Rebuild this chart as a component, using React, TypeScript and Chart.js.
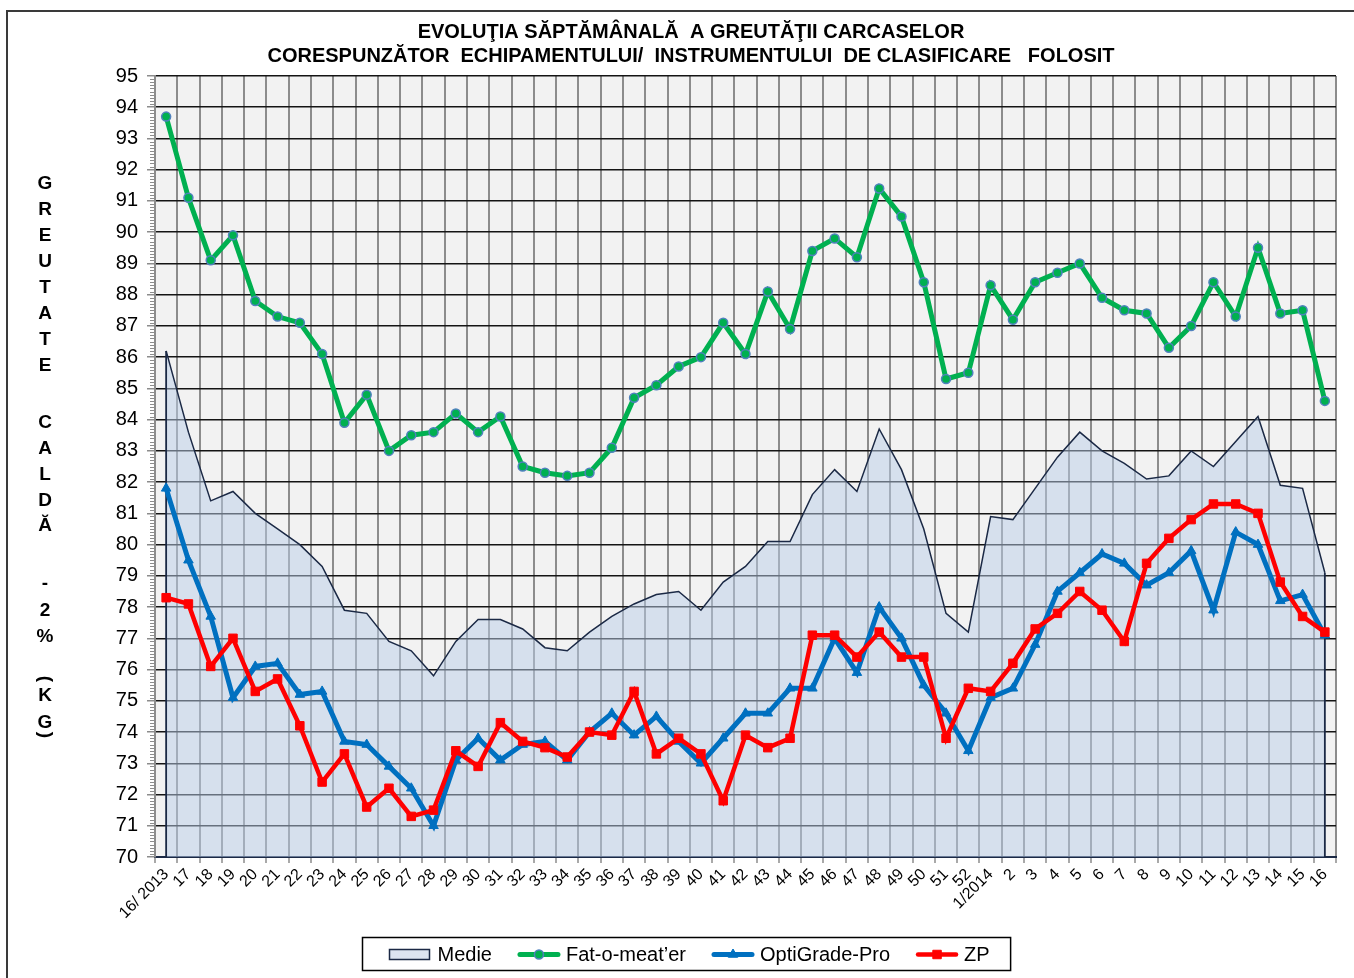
import React, { useEffect, useRef } from 'react';
import { Chart, registerables } from 'chart.js';
import { drawPoint } from 'chart.js/helpers';

Chart.register(...registerables);

const FONT = "'Liberation Sans', Arial, Helvetica, sans-serif";

const titleLines = [
  'EVOLUŢIA SĂPTĂMÂNALĂ  A GREUTĂŢII CARCASELOR',
  'CORESPUNZĂTOR  ECHIPAMENTULUI/  INSTRUMENTULUI  DE CLASIFICARE   FOLOSIT',
];

const yAxisTitleWords = ['GREUTATE', 'CALDĂ', '-2%', '(KG)'];

const weekLabels = [
  '16/ 2013', '17', '18', '19', '20', '21', '22', '23', '24', '25', '26', '27', '28', '29', '30',
  '31', '32', '33', '34', '35', '36', '37', '38', '39', '40', '41', '42', '43', '44', '45', '46',
  '47', '48', '49', '50', '51', '52', '1/2014', '2', '3', '4', '5', '6', '7', '8', '9', '10', '11',
  '12', '13', '14', '15', '16',
];

const medieValues = [
  86.2, 83.6, 81.4, 81.7, 81.0, 80.5, 80.0, 79.3, 77.9, 77.8, 76.9, 76.6, 75.8, 76.9, 77.6, 77.6,
  77.3, 76.7, 76.6, 77.2, 77.7, 78.1, 78.4, 78.5, 77.9, 78.8, 79.3, 80.1, 80.1, 81.6, 82.4, 81.7,
  83.7, 82.4, 80.5, 77.8, 77.2, 80.9, 80.8, 81.8, 82.8, 83.6, 83.0, 82.6, 82.1, 82.2, 83.0, 82.5,
  83.3, 84.1, 81.9, 81.8, 79.1,
];

const fatOMeaterValues = [
  93.7, 91.1, 89.1, 89.9, 87.8, 87.3, 87.1, 86.1, 83.9, 84.8, 83.0, 83.5, 83.6, 84.2, 83.6, 84.1,
  82.5, 82.3, 82.2, 82.3, 83.1, 84.7, 85.1, 85.7, 86.0, 87.1, 86.1, 88.1, 86.9, 89.4, 89.8, 89.2,
  91.4, 90.5, 88.4, 85.3, 85.5, 88.3, 87.2, 88.4, 88.7, 89.0, 87.9, 87.5, 87.4, 86.3, 87.0, 88.4,
  87.3, 89.5, 87.4, 87.5, 84.6,
];

const optiGradeValues = [
  81.8, 79.5, 77.7, 75.1, 76.1, 76.2, 75.2, 75.3, 73.7, 73.6, 72.9, 72.2, 71.0, 73.1, 73.8, 73.1,
  73.6, 73.7, 73.1, 74.0, 74.6, 73.9, 74.5, 73.7, 73.0, 73.8, 74.6, 74.6, 75.4, 75.4, 77.0, 75.9,
  78.0, 77.0, 75.5, 74.6, 73.4, 75.1, 75.4, 76.8, 78.5, 79.1, 79.7, 79.4, 78.7, 79.1, 79.8, 77.9,
  80.4, 80.0, 78.2, 78.4, 77.1,
];

const zpValues = [
  78.3, 78.1, 76.1, 77.0, 75.3, 75.7, 74.2, 72.4, 73.3, 71.6, 72.2, 71.3, 71.5, 73.4, 72.9, 74.3,
  73.7, 73.5, 73.2, 74.0, 73.9, 75.3, 73.3, 73.8, 73.3, 71.8, 73.9, 73.5, 73.8, 77.1, 77.1, 76.4,
  77.2, 76.4, 76.4, 73.8, 75.4, 75.3, 76.2, 77.3, 77.8, 78.5, 77.9, 76.9, 79.4, 80.2, 80.8, 81.3,
  81.3, 81.0, 78.8, 77.7, 77.2,
];

const Y_MIN = 70;
const Y_MAX = 95;

const MEDIE_FILL = 'rgba(186,205,231,0.5)';
const MEDIE_LINE = '#1b2945';

// background, frame
const backgroundPlugin = {
  id: 'bgFrame',
  beforeDraw(chart: any) {
    const { ctx, chartArea, width, height } = chart;
    ctx.save();
    ctx.fillStyle = '#ffffff';
    ctx.fillRect(0, 0, width, height);
    ctx.fillStyle = '#f2f2f2';
    ctx.fillRect(chartArea.left, chartArea.top, chartArea.right - chartArea.left, chartArea.bottom - chartArea.top);
    ctx.strokeStyle = '#3a3a3a';
    ctx.lineWidth = 2;
    ctx.strokeRect(7, 11, width + 20, height + 20);
    ctx.restore();
  },
};

// minor ticks on the value axis
const minorTicksPlugin = {
  id: 'minorTicks',
  afterDraw(chart: any) {
    const { ctx, chartArea } = chart;
    const y = chart.scales.y;
    ctx.save();
    ctx.strokeStyle = '#8c8c8c';
    ctx.lineWidth = 1;
    const n = Math.round((Y_MAX - Y_MIN) * 10);
    for (let i = 0; i <= n; i++) {
      if (i % 10 === 0) continue;
      const py = Math.round(y.getPixelForValue(Y_MIN + i / 10)) + 0.5;
      ctx.beginPath();
      ctx.moveTo(chartArea.left - 5, py);
      ctx.lineTo(chartArea.left - 1, py);
      ctx.stroke();
    }
    ctx.restore();
  },
};

// vertical edges of the "Medie" area
const areaEdgesPlugin = {
  id: 'areaEdges',
  afterDatasetDraw(chart: any, args: any) {
    const ds = chart.data.datasets[args.index];
    if (!ds || !ds.fill) return;
    const pts = args.meta.data;
    if (!pts.length) return;
    const { ctx } = chart;
    const bottom = chart.scales.y.getPixelForValue(Y_MIN);
    const first = pts[0];
    const last = pts[pts.length - 1];
    ctx.save();
    ctx.strokeStyle = ds.borderColor;
    ctx.lineWidth = 1.8;
    ctx.beginPath();
    ctx.moveTo(first.x, first.y);
    ctx.lineTo(first.x, bottom);
    ctx.moveTo(last.x, last.y);
    ctx.lineTo(last.x, bottom);
    ctx.stroke();
    ctx.restore();
  },
};

// stacked vertical axis title
const yTitlePlugin = {
  id: 'stackedYTitle',
  afterDraw(chart: any) {
    const { ctx } = chart;
    const x = 45;
    const wordStarts = [183, 422, 583, 679];
    const wordSteps = [26, 25.8, 26.5, 0];
    ctx.save();
    ctx.fillStyle = '#000';
    ctx.font = `bold 19px ${FONT}`;
    ctx.textAlign = 'center';
    ctx.textBaseline = 'middle';
    yAxisTitleWords.forEach((word, w) => {
      const chars = Array.from(word);
      if (word.startsWith('(')) {
        const ys = [679, 695, 722, 735];
        chars.forEach((c, k) => {
          const y = ys[k] ?? (ys[ys.length - 1] + 26 * (k - ys.length + 1));
          if (c === '(' || c === ')') {
            ctx.save();
            ctx.translate(x, y);
            ctx.rotate(Math.PI / 2);
            ctx.fillText(c, 0, 0);
            ctx.restore();
          } else {
            ctx.fillText(c, x, y + 1);
          }
        });
      } else {
        chars.forEach((c, k) => {
          ctx.fillText(c, x, wordStarts[w] + wordSteps[w] * k + 1);
        });
      }
    });
    ctx.restore();
  },
};

// boxed legend with line+marker swatches
const boxLegendPlugin = {
  id: 'boxLegend',
  afterDraw(chart: any) {
    const { ctx } = chart;
    const datasets = chart.data.datasets;
    ctx.save();
    ctx.font = `20px ${FONT}`;
    const sw = 42;
    const gapText = 6;
    const gapItem = 26;
    const padL = 27;
    const padR = 21;
    let total = padL + padR;
    datasets.forEach((ds: any, k: number) => {
      total += sw + gapText + ctx.measureText(ds.label).width + (k < datasets.length - 1 ? gapItem : 0);
    });
    const cx = 686;
    const top = 937;
    const h = 33;
    const left = Math.round(cx - total / 2) + 0.5;
    ctx.fillStyle = '#fff';
    ctx.fillRect(left, top, total, h);
    ctx.strokeStyle = '#000';
    ctx.lineWidth = 1.5;
    ctx.strokeRect(left, top + 0.5, total, h);
    const cy = top + h / 2 + 1;
    let x = left + padL;
    datasets.forEach((ds: any) => {
      if (ds.fill) {
        ctx.fillStyle = '#dce4f0';
        ctx.fillRect(x, cy - 5, sw - 2, 10);
        ctx.strokeStyle = ds.borderColor;
        ctx.lineWidth = 1.5;
        ctx.strokeRect(x, cy - 5, sw - 2, 10);
      } else {
        ctx.strokeStyle = ds.borderColor;
        ctx.lineWidth = ds.borderWidth;
        ctx.lineCap = 'round';
        ctx.beginPath();
        ctx.moveTo(x + 2, cy);
        ctx.lineTo(x + sw - 2, cy);
        ctx.stroke();
        ctx.lineCap = 'butt';
        ctx.fillStyle = ds.pointBackgroundColor;
        ctx.strokeStyle = ds.pointBorderColor;
        ctx.lineWidth = ds.pointBorderWidth;
        drawPoint(ctx, { pointStyle: ds.pointStyle, radius: ds.pointRadius, rotation: 0, borderWidth: ds.pointBorderWidth }, x + sw / 2, cy);
      }
      ctx.fillStyle = '#000';
      ctx.textBaseline = 'middle';
      ctx.textAlign = 'left';
      ctx.fillText(ds.label, x + sw + gapText, cy + 1);
      x += sw + gapText + ctx.measureText(ds.label).width + gapItem;
    });
    ctx.restore();
  },
};

export default function App() {
  const canvasRef = useRef<HTMLCanvasElement | null>(null);

  useEffect(() => {
    if (!canvasRef.current) return;
    const chart = new Chart(canvasRef.current, {
      type: 'line',
      data: {
        labels: weekLabels,
        datasets: [
          {
            label: 'Medie',
            data: medieValues,
            borderColor: MEDIE_LINE,
            backgroundColor: MEDIE_FILL,
            borderWidth: 1.5,
            fill: 'start',
            pointRadius: 0,
            tension: 0,
            order: 4,
          },
          {
            label: 'Fat-o-meat’er',
            data: fatOMeaterValues,
            borderColor: '#00b050',
            backgroundColor: '#00b050',
            borderWidth: 5,
            pointStyle: 'circle',
            pointRadius: 4.5,
            pointBackgroundColor: '#00b050',
            pointBorderColor: '#4f81bd',
            pointBorderWidth: 1.5,
            fill: false,
            tension: 0,
            order: 3,
          },
          {
            label: 'OptiGrade-Pro',
            data: optiGradeValues,
            borderColor: '#0070c0',
            backgroundColor: '#0070c0',
            borderWidth: 5,
            pointStyle: 'triangle',
            pointRadius: 5.5,
            pointBackgroundColor: '#0070c0',
            pointBorderColor: '#0070c0',
            pointBorderWidth: 1,
            fill: false,
            tension: 0,
            order: 2,
          },
          {
            label: 'ZP',
            data: zpValues,
            borderColor: '#ff0000',
            backgroundColor: '#ff0000',
            borderWidth: 4.5,
            pointStyle: 'rect',
            pointRadius: 6,
            pointBackgroundColor: '#ff0000',
            pointBorderColor: '#ff0000',
            pointBorderWidth: 1,
            fill: false,
            tension: 0,
            order: 1,
          },
        ],
      },
      options: {
        responsive: false,
        animation: false,
        devicePixelRatio: 1,
        events: [],
        layout: { padding: { left: 46, right: 18, top: 0, bottom: 0 } },
        plugins: {
          legend: { display: false },
          tooltip: { enabled: false },
          title: {
            display: true,
            text: titleLines,
            color: '#000',
            font: { family: FONT, size: 20, weight: 'bold', lineHeight: 1.2 },
            padding: { top: 20, bottom: 8 },
          },
        },
        scales: {
          x: {
            type: 'category',
            offset: true,
            ticks: {
              autoSkip: false,
              maxRotation: 45,
              minRotation: 45,
              color: '#000',
              font: { family: FONT, size: 16 },
              padding: 2,
            },
            grid: {
              offset: true,
              color: '#8c8c8c',
              lineWidth: 2,
              tickLength: 6,
              tickColor: '#8c8c8c',
              tickWidth: 1.5,
            },
            border: { color: MEDIE_LINE, width: 2 },
            afterFit: (s: any) => {
              s.height = 121;
            },
          },
          y: {
            type: 'linear',
            min: Y_MIN,
            max: Y_MAX,
            ticks: {
              stepSize: 1,
              color: '#000',
              font: { family: FONT, size: 20 },
              padding: 9,
            },
            grid: {
              color: '#141414',
              lineWidth: 1.5,
              tickColor: '#8c8c8c',
              tickLength: 8,
              tickWidth: 1.5,
            },
            border: { color: '#8c8c8c', width: 2 },
            afterFit: (s: any) => {
              s.width = 109;
            },
          },
        },
      },
      plugins: [backgroundPlugin, areaEdgesPlugin, minorTicksPlugin, yTitlePlugin, boxLegendPlugin],
    } as any);
    return () => chart.destroy();
  }, []);

  return (
    <div style={{ position: 'absolute', left: 0, top: 0, width: 1354, height: 978, overflow: 'hidden', background: '#fff' }}>
      <canvas ref={canvasRef} width={1354} height={978} style={{ display: 'block', width: 1354, height: 978 }} />
    </div>
  );
}
